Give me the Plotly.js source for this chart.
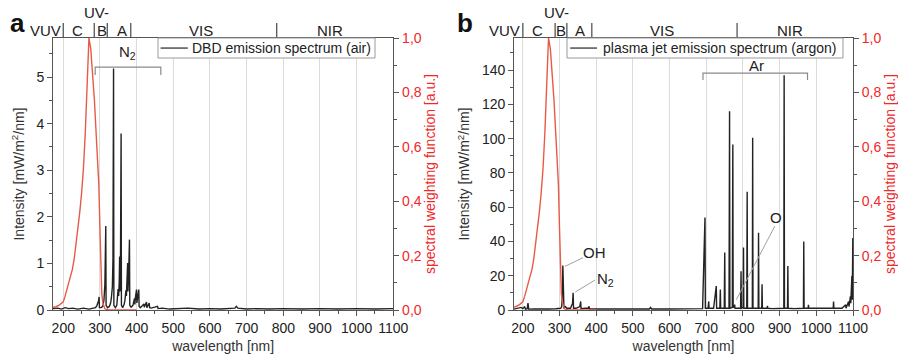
<!DOCTYPE html>
<html>
<head>
<meta charset="utf-8">
<script src="https://cdn.plot.ly/plotly-3.0.1.min.js"></script>
<style>html,body{margin:0;padding:0;background:#fff;}#chart{width:898px;height:357px;}</style>
</head>
<body>
<div id="chart"></div>
<script>
// ---- data ----
// spectral weighting function (red), both panels
const weightWl = [172,180,190,200,205,210,215,220,225,230,235,240,245,250,254,255,260,265,270,275,280,285,290,295,297,300,303,305,308,310,313,315,318,320,325,330,340,350,360,370,380,390,400];
const weightS  = [0.010,0.012,0.019,0.030,0.051,0.075,0.095,0.120,0.150,0.190,0.240,0.300,0.360,0.430,0.500,0.520,0.650,0.810,1.000,0.960,0.880,0.770,0.640,0.540,0.460,0.300,0.120,0.060,0.026,0.015,0.006,0.003,0.0016,0.0010,0.0005,0.0004,0.0003,0.0002,0.00013,0.0001,0.00006,0.00004,0.00003];

// (a) DBD emission spectrum (air) [mW/m2/nm]
const dbdWl = [172,185,195,205,215,225,240,255,270,280,288,292,294.5,296.2,297.7,298.6,303,308,311,313.5,315.9,316.8,321,326,329,331,333.9,335.5,337.1,338.0,342,346,349.5,351,352.6,353.7,354.5,355.9,357.7,358.6,362,366,368,370.9,372.2,373.9,375.5,376.4,378.2,380.5,381.4,385,390,394.3,395.2,397.2,399.8,400.7,403.2,405.9,406.8,410,414,420,421,424,426.9,427.8,431.5,434.4,435.3,440,449,457,458.5,470,490,510,540,570,600,630,655,668,672,676,700,730,760,800,850,900,950,1000,1050,1100];
const dbdI  = [0.03,0.04,0.02,0.05,0.03,0.04,0.02,0.04,0.02,0.03,0.05,0.10,0.14,0.20,0.28,0.05,0.05,0.08,0.22,0.55,1.80,0.10,0.05,0.08,0.15,0.25,0.50,1.10,5.18,0.10,0.05,0.10,0.45,0.30,0.60,1.15,0.40,0.80,3.79,0.10,0.05,0.12,0.20,0.42,0.30,0.62,1.01,0.40,0.72,1.51,0.10,0.06,0.10,0.25,0.12,0.30,0.44,0.15,0.36,0.44,0.08,0.05,0.08,0.13,0.06,0.10,0.17,0.05,0.12,0.15,0.05,0.04,0.06,0.08,0.03,0.04,0.02,0.03,0.04,0.02,0.03,0.02,0.03,0.04,0.08,0.04,0.02,0.03,0.02,0.03,0.02,0.03,0.02,0.03,0.02,0.03];

// (b) plasma jet emission spectrum (argon) [mW/m2/nm]
const jetWl = [176,185,195,200,205,207,212,214,216,230,250,270,290,303,306,307.5,309,310.2,312,316,320,330,335.5,337.1,338.2,345,355.3,357.7,358.6,370,378,380.5,381.5,400,450,500,545,548,551,600,650,690,696.5,697.5,705,706.7,707.6,720,727.3,728.2,737,738.4,739.3,749,750.4,751.3,762,763.5,764.4,771,772.4,773.3,776.5,777.4,778.3,793.5,794.8,795.7,800.6,801.5,802.4,810.4,811.5,812.4,825.6,826.5,827.4,841.6,842.5,843.4,851.2,852.1,853,866,866.8,867.7,880,895,911.4,912.3,913.2,921.5,922.4,923.3,940,964.9,965.8,966.7,977.6,978.5,979.4,1000,1025,1046.1,1047,1047.9,1070,1080,1081,1088,1089,1093,1094,1097,1098,1099.5,1100];
const jetI  = [0.5,1.0,1.5,0.8,2.0,0.5,0.8,4.0,0.5,0.6,0.8,0.6,0.7,1.0,2.0,8.0,26.0,3.0,1.5,2.0,1.0,1.0,4.0,10.0,1.0,1.0,2.0,5.0,0.8,1.0,1.0,2.2,0.6,0.6,0.6,0.7,0.6,1.5,0.6,0.6,0.6,0.8,54.0,1.0,1.0,5.0,1.0,1.0,14.0,1.0,1.0,12.0,1.0,1.0,33.5,1.0,1.0,116.0,1.0,1.5,96.5,1.5,2.0,3.2,1.0,1.0,22.6,1.0,1.5,36.5,1.0,1.0,69.0,1.0,1.0,100.5,1.0,1.0,45.0,1.0,1.0,15.0,1.0,1.0,2.5,1.0,0.8,1.0,1.0,137.0,1.0,1.0,25.6,1.0,0.8,1.0,40.0,1.0,1.0,3.0,1.0,1.0,0.8,1.0,5.0,1.0,1.0,3.0,1.0,5.0,2.0,8.0,4.0,20.0,6.0,42.0,10.0];

// tick labels, band labels, legend texts
const weightTickVals = [0,0.2,0.4,0.6,0.8,1.0];
const weightTickText = ['0,0','0,2','0,4','0,6','0,8','1,0'];
const bandNames = ['C','B','A','VIS','NIR'];
const bandCentersA = [240,304.7,359,575.5,927];
const bandCentersB = [240,304.4,356,579,929];
const bandEdgesA = [200,284.5,320,384,782];
const bandEdgesB = [200,288,320,388,784];
const legendA = 'DBD emission spectrum (air)';
const legendB = 'plasma jet emission spectrum (argon)';

// ---- styling ----
const FONT = 'Liberation Sans, Arial, Helvetica, sans-serif';
const RED_LINE = '#e85a48';
const RED_TXT = '#f02828';
const AX = '#555';
const GRID = '#dcdcdc';
const SPEC = '#222';

const traces = [
  {x: dbdWl, y: dbdI, type: 'scatter', mode: 'lines', xaxis: 'x', yaxis: 'y',
   line: {color: SPEC, width: 1.4}, name: legendA, showlegend: false},
  {x: weightWl, y: weightS, type: 'scatter', mode: 'lines', xaxis: 'x', yaxis: 'y2',
   line: {color: RED_LINE, width: 1.4}, name: 'spectral weighting function', showlegend: false},
  {x: jetWl, y: jetI, type: 'scatter', mode: 'lines', xaxis: 'x2', yaxis: 'y3',
   line: {color: SPEC, width: 1.4}, name: legendB, showlegend: false},
  {x: weightWl, y: weightS, type: 'scatter', mode: 'lines', xaxis: 'x2', yaxis: 'y4',
   line: {color: RED_LINE, width: 1.4}, name: 'spectral weighting function', showlegend: false}
];

function xax(domain, range, anchor) {
  return {
    domain: domain, range: range, anchor: anchor,
    tickmode: 'linear', tick0: 0, dtick: 100,
    ticks: 'outside', ticklen: 5, tickcolor: AX, tickwidth: 1,
    minor: {dtick: 50, ticklen: 3, tickcolor: AX, ticks: 'outside', showgrid: false},
    showgrid: true, gridcolor: GRID, gridwidth: 1,
    showline: true, linecolor: AX, linewidth: 1, mirror: true,
    zeroline: false,
    tickfont: {family: FONT, size: 14, color: '#222'},
    title: {text: 'wavelength [nm]', font: {family: FONT, size: 14, color: '#333'}, standoff: 6}
  };
}
function yleft(range, dtick, minor, anchor) {
  return {
    domain: [0, 1], range: range, anchor: anchor,
    tickmode: 'linear', tick0: 0, dtick: dtick,
    ticks: 'outside', ticklen: 5, tickcolor: AX,
    minor: {dtick: minor, ticklen: 3, tickcolor: AX, ticks: 'outside', showgrid: false},
    showgrid: false, zeroline: false,
    showline: true, linecolor: AX, linewidth: 1,
    tickfont: {family: FONT, size: 14, color: '#222'},
    title: {text: 'Intensity [mW/m<sup>2</sup>/nm]', font: {family: FONT, size: 14, color: '#333'}, standoff: 8}
  };
}
function yright(overlay, anchor) {
  return {
    overlaying: overlay, side: 'right', anchor: anchor, range: [0, 1],
    tickmode: 'array', tickvals: weightTickVals, ticktext: weightTickText,
    ticks: 'outside', ticklen: 5, tickcolor: AX,
    minor: {dtick: 0.1, ticklen: 3, tickcolor: AX, ticks: 'outside', showgrid: false},
    showgrid: false, zeroline: false,
    showline: true, linecolor: AX, linewidth: 1,
    tickfont: {family: FONT, size: 14, color: RED_TXT},
    title: {text: 'spectral weighting function [a.u.]', font: {family: FONT, size: 14, color: RED_TXT}, standoff: 4}
  };
}

const annotations = [];
const shapes = [];
function bandLabels(xref, centers, edges, vuvPaperX) {
  bandNames.forEach((n, i) => annotations.push({
    xref: xref, yref: 'paper', x: centers[i], y: 1.029, text: n, showarrow: false,
    font: {family: FONT, size: 15, color: '#222'}, xanchor: 'center', yanchor: 'middle'}));
  annotations.push({xref: 'paper', yref: 'paper', x: vuvPaperX, y: 1.029, text: 'VUV', showarrow: false,
    font: {family: FONT, size: 15, color: '#222'}, xanchor: 'center', yanchor: 'middle'});
  annotations.push({xref: xref, yref: 'paper', x: 291, y: 1.092, text: 'UV-', showarrow: false,
    font: {family: FONT, size: 15, color: '#222'}, xanchor: 'center', yanchor: 'middle'});
  edges.forEach(e => shapes.push({type: 'line', xref: xref, yref: 'paper', x0: e, x1: e, y0: 1.0, y1: 1.055,
    line: {color: AX, width: 1.3}}));
}
bandLabels('x', bandCentersA, bandEdgesA, -0.01);
bandLabels('x2', bandCentersB, bandEdgesB, 0.565);

// panel letters
annotations.push({xref: 'paper', yref: 'paper', x: -0.045, y: 1.055, text: 'a', showarrow: false,
  font: {family: FONT, size: 26, color: '#111', weight: 'bold'}, xanchor: 'center', yanchor: 'middle'});
annotations.push({xref: 'paper', yref: 'paper', x: 0.515, y: 1.055, text: 'b', showarrow: false,
  font: {family: FONT, size: 26, color: '#111', weight: 'bold'}, xanchor: 'center', yanchor: 'middle'});

// legend boxes (drawn inside the top frame, as in the reference)
function legendBox(x0, x1, lineX0, lineX1, textX, label) {
  shapes.push({type: 'rect', xref: 'paper', yref: 'paper', x0: x0, x1: x1, y0: 0.9265, y1: 1.0,
    fillcolor: '#fff', line: {color: '#9a9a9a', width: 1}, layer: 'above'});
  shapes.push({type: 'line', xref: 'paper', yref: 'paper', x0: lineX0, x1: lineX1, y0: 0.963, y1: 0.963,
    line: {color: '#444', width: 1.4}, layer: 'above'});
  annotations.push({xref: 'paper', yref: 'paper', x: textX, y: 0.963, text: label, showarrow: false,
    font: {family: FONT, size: 14, color: '#222'}, xanchor: 'left', yanchor: 'middle', xshift: -2});
}
legendBox(0.13125, 0.4025, 0.1345, 0.1685, 0.17375, legendA);
legendBox(0.6425, 0.9875, 0.6465, 0.68, 0.6875, legendB);

// N2 bracket (a)
shapes.push({type: 'path', xref: 'x', yref: 'paper', path: 'M287,0.864 L287,0.893 L466,0.893 L466,0.864',
  line: {color: '#8a8a8a', width: 1.2}});
annotations.push({xref: 'x', yref: 'paper', x: 374, y: 0.945, text: 'N<sub>2</sub>', showarrow: false,
  font: {family: FONT, size: 15, color: '#222'}, xanchor: 'center', yanchor: 'middle'});
// Ar bracket (b)
shapes.push({type: 'path', xref: 'x2', yref: 'paper', path: 'M691,0.846 L691,0.871 L976,0.871 L976,0.846',
  line: {color: '#8a8a8a', width: 1.2}});
annotations.push({xref: 'x2', yref: 'paper', x: 836, y: 0.898, text: 'Ar', showarrow: false,
  font: {family: FONT, size: 15, color: '#222'}, xanchor: 'center', yanchor: 'middle'});
// OH, N2, O labels with pointer lines (b)
annotations.push({xref: 'x2', yref: 'y3', x: 394, y: 33.5, text: 'OH', showarrow: false,
  font: {family: FONT, size: 15, color: '#222'}, xanchor: 'center', yanchor: 'middle'});
shapes.push({type: 'line', xref: 'x2', yref: 'y3', x0: 364, y0: 30.5, x1: 315, y1: 25.5, line: {color: '#a0a0a0', width: 1}});
annotations.push({xref: 'x2', yref: 'y3', x: 425, y: 18, text: 'N<sub>2</sub>', showarrow: false,
  font: {family: FONT, size: 15, color: '#222'}, xanchor: 'center', yanchor: 'middle'});
shapes.push({type: 'line', xref: 'x2', yref: 'y3', x0: 397, y0: 17.5, x1: 343, y1: 10.5, line: {color: '#a0a0a0', width: 1}});
annotations.push({xref: 'x2', yref: 'y3', x: 891, y: 54, text: 'O', showarrow: false,
  font: {family: FONT, size: 15, color: '#222'}, xanchor: 'center', yanchor: 'middle'});
shapes.push({type: 'line', xref: 'x2', yref: 'y3', x0: 887, y0: 49, x1: 782, y1: 6, line: {color: '#a0a0a0', width: 1}});

const layout = {
  width: 898, height: 357,
  margin: {l: 53, r: 45, t: 38, b: 47},
  paper_bgcolor: '#fff', plot_bgcolor: '#fff',
  font: {family: FONT, size: 14, color: '#222'},
  showlegend: false,
  xaxis: xax([0, 0.4254], [172, 1100], 'y'),
  yaxis: yleft([0, 5.837], 1, 0.5, 'x'),
  yaxis2: yright('y', 'x'),
  xaxis2: xax([0.5763, 1], [176, 1100], 'y3'),
  yaxis3: yleft([0, 158.7], 20, 10, 'x2'),
  yaxis4: yright('y3', 'x2'),
  annotations: annotations,
  shapes: shapes
};

Plotly.newPlot('chart', traces, layout, {displayModeBar: false, staticPlot: true});
</script>
</body>
</html>
